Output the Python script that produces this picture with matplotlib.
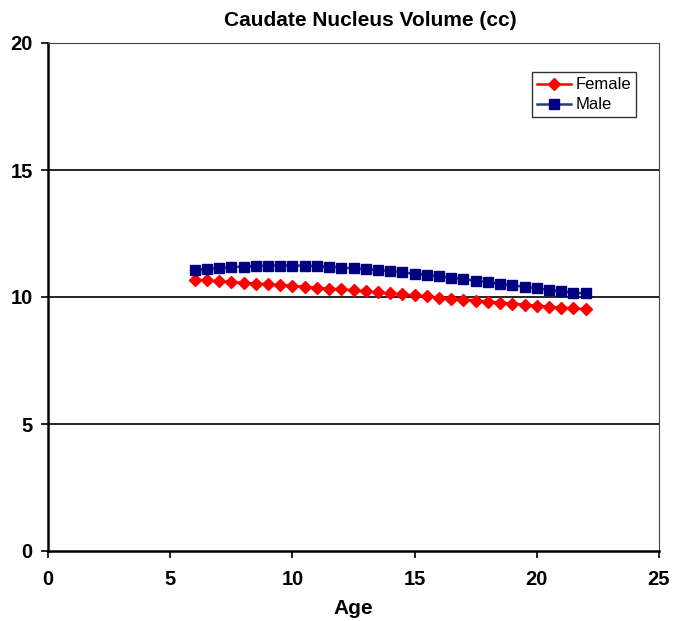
import numpy as np
import matplotlib
matplotlib.use('Agg')
import matplotlib.pyplot as plt

plt.rcParams['font.family'] = ['Liberation Sans', 'DejaVu Sans']

# ages 6..22 in half-year steps
age = [6.0, 6.5, 7.0, 7.5, 8.0, 8.5, 9.0, 9.5, 10.0, 10.5, 11.0, 11.5,
       12.0, 12.5, 13.0, 13.5, 14.0, 14.5, 15.0, 15.5, 16.0, 16.5, 17.0,
       17.5, 18.0, 18.5, 19.0, 19.5, 20.0, 20.5, 21.0, 21.5, 22.0]

female = [10.68, 10.65, 10.62, 10.59, 10.56, 10.53, 10.50, 10.47, 10.44,
          10.40, 10.37, 10.33, 10.30, 10.26, 10.22, 10.18, 10.14, 10.10,
          10.06, 10.02, 9.98, 9.94, 9.90, 9.86, 9.82, 9.78, 9.74, 9.70,
          9.66, 9.62, 9.58, 9.55, 9.52]

male = [11.05, 11.10, 11.14, 11.17, 11.20, 11.22, 11.23, 11.24, 11.24,
        11.23, 11.21, 11.19, 11.16, 11.13, 11.10, 11.06, 11.02, 10.97,
        10.92, 10.87, 10.82, 10.76, 10.70, 10.64, 10.58, 10.52, 10.46,
        10.40, 10.34, 10.28, 10.22, 10.17, 10.14]

xticks = [0, 5, 10, 15, 20, 25]
yticks = [0, 5, 10, 15, 20]

fig = plt.figure(figsize=(6.73, 6.21), dpi=100)
ax = fig.add_axes([48/673, 1 - 551/621, 611/673, 508/621])

for y in yticks[1:-1]:
  ax.axhline(y, color='black', linewidth=1.2, zorder=1)

ax.plot(age, female, color='#ff0000', marker='D', markersize=6,
        linewidth=1.8, label='Female', zorder=3)
ax.plot(age, male, color='#1f3f6f', marker='s', markersize=7,
        markerfacecolor='#000080', markeredgecolor='#000080',
        linewidth=1.8, label='Male', zorder=3)

ax.set_xlim(0, 25)
ax.set_ylim(0, 20)
ax.set_xticks(xticks)
ax.set_yticks(yticks)
ax.tick_params(direction='out', length=5, width=1.2, labelsize=14.5)
ax.tick_params(axis='y', pad=6)
ax.tick_params(axis='x', pad=9)
for lab in ax.get_xticklabels() + ax.get_yticklabels():
  lab.set_fontweight('bold')

ax.spines['left'].set_linewidth(1.8)
ax.spines['bottom'].set_linewidth(1.8)
ax.spines['top'].set_linewidth(0.8)
ax.spines['right'].set_linewidth(0.8)
ax.spines['top'].set_color('#444444')
ax.spines['right'].set_color('#444444')

# title sits a bit right of the plot centre in the original
fig.text(370/673, 1 - 21/621, 'Caudate Nucleus Volume (cc)', fontsize=15,
         fontweight='bold', ha='center', va='center')
ax.set_xlabel('Age', fontsize=15, fontweight='bold', labelpad=7)

leg = ax.legend(loc='upper right', bbox_to_anchor=(0.963, 0.942), fontsize=12,
                frameon=True, fancybox=False, edgecolor='black',
                handlelength=2.0, borderpad=0.3, labelspacing=0.3,
                handletextpad=0.3, borderaxespad=0)
leg.get_frame().set_linewidth(1.0)

fig.savefig('out.png', dpi=100)
